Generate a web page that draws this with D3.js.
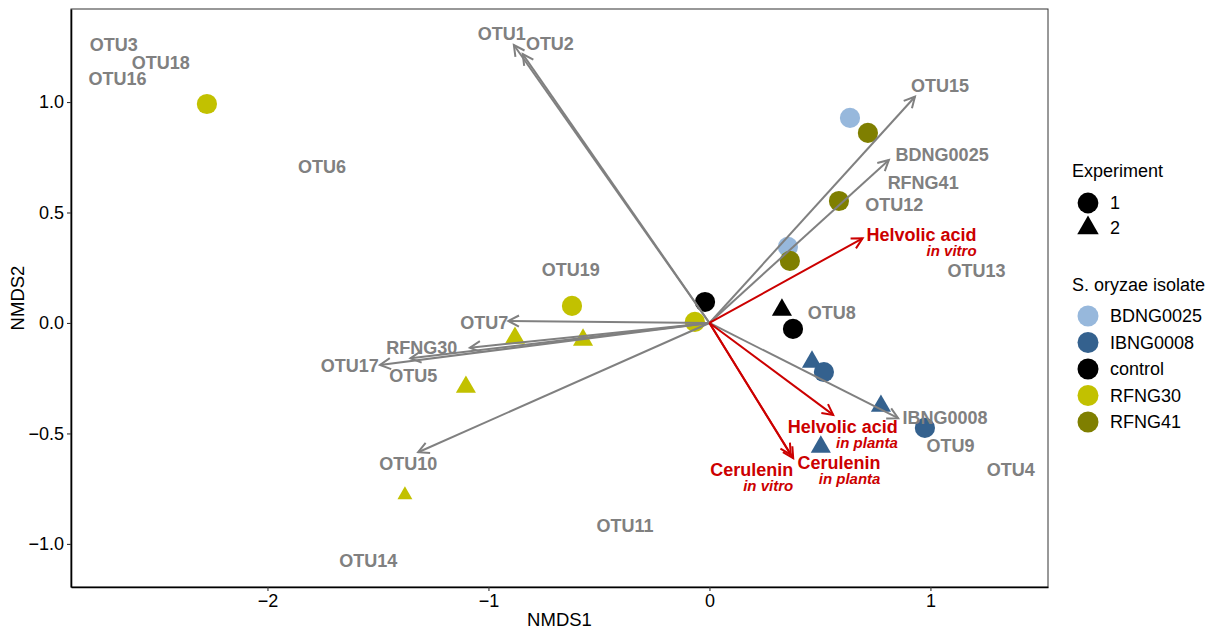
<!DOCTYPE html>
<html>
<head>
<meta charset="utf-8">
<script src="https://cdn.jsdelivr.net/npm/d3@7"></script>
<style>
  body { margin: 0; background: #fff; }
  text { font-family: "Liberation Sans", Arial, sans-serif; }
</style>
</head>
<body>
<div id="chart"></div>
<script>
// site scores (NMDS1, NMDS2)
const pointX = [-2.274, 0.636, 0.717, 0.586, 0.355, 0.364, -0.020, -0.622, -0.066, 0.328, 0.378, -0.880, -0.572, -1.102, -1.378, 0.464, 0.518, 0.776, 0.975, 0.504];
const pointY = [0.991, 0.928, 0.860, 0.552, 0.344, 0.281, 0.095, 0.077, 0.005, 0.059, -0.027, -0.068, -0.077, -0.290, -0.778, -0.176, -0.222, -0.376, -0.475, -0.561];
const pointIsolate = ["RFNG30", "BDNG0025", "RFNG41", "RFNG41", "BDNG0025", "RFNG41", "control", "RFNG30", "RFNG30", "control", "control", "RFNG30", "RFNG30", "RFNG30", "RFNG30", "IBNG0008", "IBNG0008", "IBNG0008", "IBNG0008", "IBNG0008"];
const pointExperiment = ["1", "1", "1", "1", "1", "1", "1", "1", "1", "2", "1", "2", "2", "2", "2", "2", "1", "2", "1", "2"];
const pointSize = [1, 1, 1, 1, 1, 1, 1, 1, 1, 1, 1, 1, 1, 1, 0.55, 1, 1, 1, 1, 1];

// fitted vectors
const arrowName = ["OTU1", "OTU2", "OTU15", "BDNG0025", "OTU7", "RFNG30", "OTU5", "OTU17", "OTU10", "IBNG0008", "Helvolic acid in vitro", "Helvolic acid in planta", "Cerulenin in vitro", "Cerulenin in planta"];
const arrowX = [-0.885, -0.845, 0.930, 0.812, -0.910, -1.084, -1.353, -1.491, -1.318, 0.854, 0.693, 0.560, 0.379, 0.368];
const arrowY = [1.258, 1.217, 1.024, 0.738, 0.009, -0.112, -0.160, -0.190, -0.585, -0.431, 0.383, -0.416, -0.612, -0.596];
const arrowKind = ["grey", "grey", "grey", "grey", "grey", "grey", "grey", "grey", "grey", "grey", "red", "red", "red", "red"];

// grey species / isolate labels
const labelText = ["OTU3", "OTU18", "OTU16", "OTU6", "OTU1", "OTU2", "OTU15", "BDNG0025", "RFNG41", "OTU12", "OTU13", "OTU8", "OTU19", "OTU7", "RFNG30", "OTU17", "OTU5", "OTU10", "OTU11", "OTU14", "IBNG0008", "OTU9", "OTU4"];
const labelX = [-2.695, -2.483, -2.678, -1.753, -0.940, -0.722, 1.043, 1.053, 0.967, 0.836, 1.209, 0.553, -0.628, -1.019, -1.302, -1.627, -1.340, -1.363, -0.382, -1.544, 1.066, 1.091, 1.364];
const labelY = [1.258, 1.180, 1.104, 0.705, 1.310, 1.262, 1.074, 0.763, 0.637, 0.534, 0.237, 0.048, 0.240, 0.001, -0.112, -0.193, -0.240, -0.639, -0.919, -1.077, -0.431, -0.555, -0.662];

// red metabolite labels
const metaName = ["Helvolic acid", "Helvolic acid", "Cerulenin", "Cerulenin"];
const metaSub = ["in vitro", "in planta", "in planta", "in vitro"];
const metaX = [0.960, 0.603, 0.586, 0.191];
const metaY = [0.398, -0.469, -0.632, -0.665];

const xTicks = [-2, -1, 0, 1];
const yTicks = [-1, -0.5, 0, 0.5, 1];

const isolates = ["BDNG0025", "IBNG0008", "control", "RFNG30", "RFNG41"];
const isolateColors = ["#97B8DC", "#34618E", "#000000", "#C2C100", "#7F7F00"];
const experiments = ["1", "2"];

const width = 1217, height = 629;
const margin = {left: 71, right: 169, top: 9, bottom: 42};

const svg = d3.select("#chart").append("svg")
    .attr("width", width)
    .attr("height", height);

let x = d3.scaleLinear().domain([-2.889, 1.532]).range([margin.left, width - margin.right]);
let y = d3.scaleLinear().domain([-1.195, 1.421]).range([height - margin.bottom, margin.top]);
let color = d3.scaleOrdinal().domain(isolates).range(isolateColors);
let shape = d3.scaleOrdinal().domain(experiments).range([d3.symbolCircle, d3.symbolTriangle]);

const grey = "#808080", red = "#CC0000";

// panel border
svg.append("rect")
    .attr("x", x.range()[0]).attr("y", y.range()[1])
    .attr("width", x.range()[1] - x.range()[0])
    .attr("height", y.range()[0] - y.range()[1])
    .attr("fill", "none").attr("stroke", "#333").attr("stroke-width", 1);

// axes
let xAxis = svg.append("g")
    .attr("transform", "translate(0," + y.range()[0] + ")")
    .call(d3.axisBottom(x).tickValues(xTicks).tickSizeInner(4).tickSizeOuter(0).tickPadding(3)
        .tickFormat(d => d3.format("d")(d).replace("-", "\u2212")));
let yAxis = svg.append("g")
    .attr("transform", "translate(" + x.range()[0] + ",0)")
    .call(d3.axisLeft(y).tickValues(yTicks).tickSizeInner(4).tickSizeOuter(0).tickPadding(3)
        .tickFormat(d => d3.format(".1f")(d).replace("-", "\u2212")));
[xAxis, yAxis].forEach(function(a) {
    a.select(".domain").attr("stroke", "#000").attr("stroke-width", 1.6);
    a.selectAll(".tick line").attr("stroke", "#333").attr("stroke-width", 1.1);
    a.selectAll(".tick text").attr("fill", "#000").style("font-size", "18px")
        .style("font-family", "'Liberation Sans', Arial, sans-serif");
});

svg.append("text")
    .attr("x", (x.range()[0] + x.range()[1]) / 2).attr("y", 626)
    .attr("text-anchor", "middle").style("font-size", "18.5px").text("NMDS1");
svg.append("text")
    .attr("transform", "translate(24," + (y.range()[0] + y.range()[1]) / 2 + ") rotate(-90)")
    .attr("text-anchor", "middle").style("font-size", "18.5px").text("NMDS2");

// points
const pts = d3.range(pointX.length);
svg.selectAll("path.pt")
    .data(pts)
    .enter()
    .append("path")
    .attr("class", "pt")
    .attr("transform", i => "translate(" + x(pointX[i]) + "," + y(pointY[i]) + ")")
    .attr("d", i => d3.symbol().type(shape(pointExperiment[i]))
        .size(pointExperiment[i] === "1" ? 320 * pointSize[i] : 175 * pointSize[i])())
    .attr("fill", i => color(pointIsolate[i]));

// arrows
const arr = d3.range(arrowX.length);
function head(i) {
    let x0 = x(0), y0 = y(0), x1 = x(arrowX[i]), y1 = y(arrowY[i]);
    let ang = Math.atan2(y1 - y0, x1 - x0), len = 12, spread = Math.PI / 6.5;
    let a = [x1 - len * Math.cos(ang - spread), y1 - len * Math.sin(ang - spread)];
    let b = [x1 - len * Math.cos(ang + spread), y1 - len * Math.sin(ang + spread)];
    return [a, [x1, y1], b];
}
svg.selectAll("line.arrow")
    .data(arr)
    .enter()
    .append("line")
    .attr("class", "arrow")
    .attr("x1", x(0)).attr("y1", y(0))
    .attr("x2", i => x(arrowX[i])).attr("y2", i => y(arrowY[i]))
    .attr("stroke", i => arrowKind[i] === "red" ? red : grey)
    .attr("stroke-width", 2);
svg.selectAll("polyline.head")
    .data(arr)
    .enter()
    .append("polyline")
    .attr("class", "head")
    .attr("points", i => head(i).join(" "))
    .attr("fill", "none")
    .attr("stroke", i => arrowKind[i] === "red" ? red : grey)
    .attr("stroke-width", 2);

// grey labels
svg.selectAll("text.lab")
    .data(d3.range(labelText.length))
    .enter()
    .append("text")
    .attr("class", "lab")
    .attr("x", i => x(labelX[i])).attr("y", i => y(labelY[i]))
    .attr("dy", "0.35em")
    .attr("text-anchor", "middle")
    .attr("fill", grey)
    .style("font-size", "18px").style("font-weight", "bold")
    .text(i => labelText[i]);

// red labels: name plus italic sub-label right aligned beneath
let meta = svg.selectAll("g.meta")
    .data(d3.range(metaName.length))
    .enter()
    .append("g")
    .attr("class", "meta")
    .attr("transform", i => "translate(" + x(metaX[i]) + "," + y(metaY[i]) + ")");
meta.append("text")
    .attr("dy", "0.35em").attr("text-anchor", "middle")
    .attr("fill", red).style("font-size", "18px").style("font-weight", "bold")
    .text(i => metaName[i]);
meta.each(function(i) {
    let g = d3.select(this);
    let w = g.select("text").node().getComputedTextLength();
    g.append("text")
        .attr("x", w / 2).attr("y", 16).attr("dy", "0.35em")
        .attr("text-anchor", "end")
        .attr("fill", red).style("font-size", "15px")
        .style("font-weight", "bold").style("font-style", "italic")
        .text(metaSub[i]);
});

// legends
let leg = svg.append("g").attr("transform", "translate(1072,0)");
leg.append("text").attr("x", 0).attr("y", 177).style("font-size", "18px").text("Experiment");
experiments.forEach(function(e, k) {
    let yy = 203 + k * 25;
    leg.append("path")
        .attr("transform", "translate(16," + yy + ")")
        .attr("d", d3.symbol().type(shape(e)).size(e === "1" ? 340 : 200)())
        .attr("fill", "#000");
    leg.append("text").attr("x", 38).attr("y", yy).attr("dy", "0.35em")
        .style("font-size", "18px").text(e);
});
leg.append("text").attr("x", 0).attr("y", 291).style("font-size", "18px").text("S. oryzae isolate");
isolates.forEach(function(s, k) {
    let yy = 316 + k * 26.5;
    leg.append("circle").attr("cx", 16).attr("cy", yy).attr("r", 10.5).attr("fill", color(s));
    leg.append("text").attr("x", 38).attr("y", yy).attr("dy", "0.35em")
        .style("font-size", "18px").text(s);
});
</script>
</body>
</html>
